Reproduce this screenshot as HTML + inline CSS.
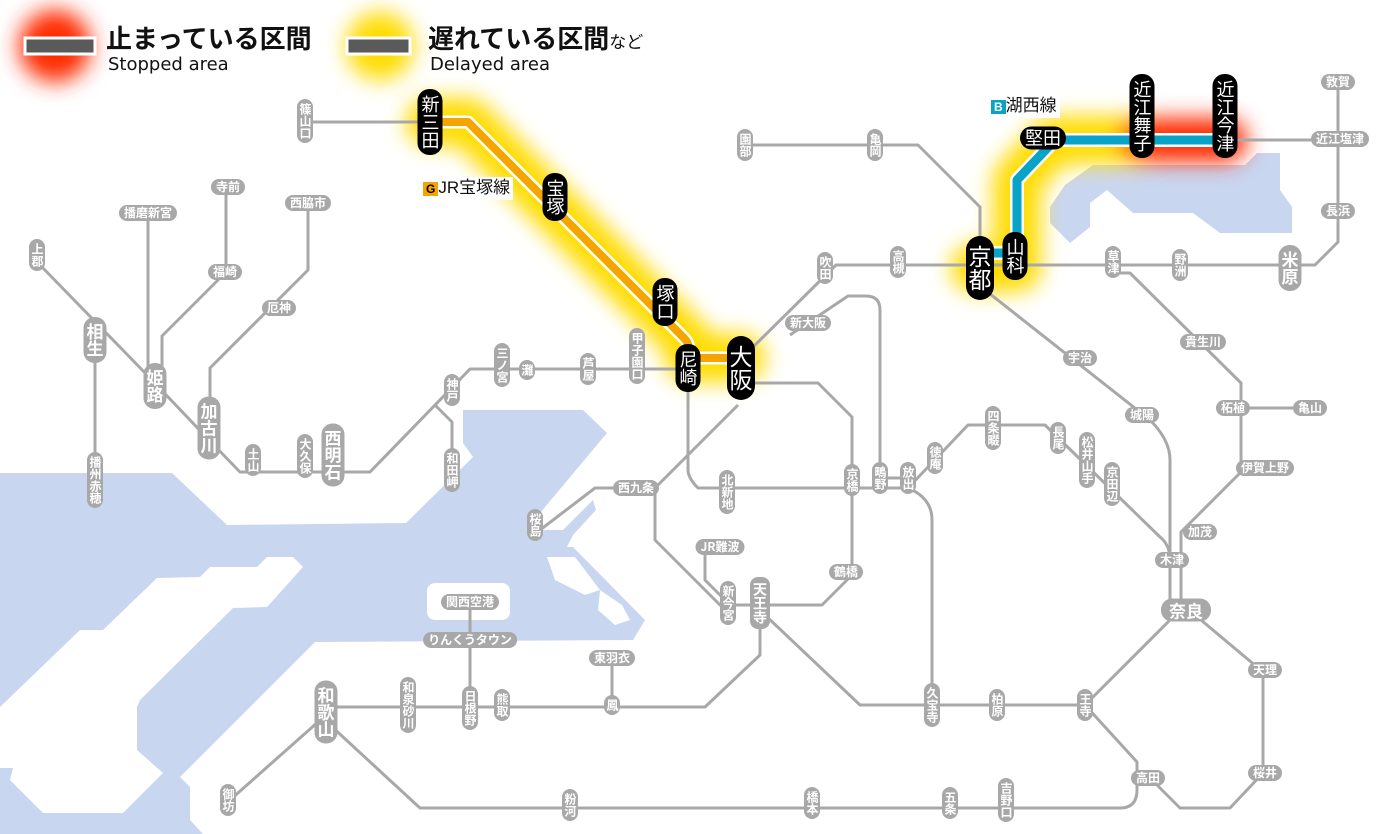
<!DOCTYPE html>
<html><head><meta charset="utf-8">
<style>
html,body{margin:0;padding:0;background:#fff;}
#m{position:relative;width:1400px;height:834px;overflow:hidden;background:#fff;font-family:"Liberation Sans","Noto Sans CJK JP",sans-serif;}
svg{position:absolute;left:0;top:0;}
.s{position:absolute;transform:translate(-50%,-50%);background:#a8a8a8;color:#fff;font-size:12px;line-height:12px;border-radius:8px;white-space:nowrap;font-family:"Noto Sans CJK JP",sans-serif;font-weight:bold;}
.v{writing-mode:vertical-rl;padding:4px 2px;}
.h{padding:2px 5px;}
.b{font-size:17px;line-height:17px;border-radius:11px;padding:6px 3px;}
.m{font-size:14px;line-height:14px;}
.k{background:#000;font-size:18px;line-height:19px;border-radius:12px;padding:6px 3px;font-weight:normal;}
.kb{font-size:23px;line-height:24px;border-radius:14px;padding:9px 2px;}
.kh{padding:2px 5px;}
.lg{position:absolute;color:#111;font-family:"Liberation Sans","Noto Sans CJK JP",sans-serif;}
.en{font-family:"DejaVu Sans",sans-serif;}
</style></head><body>
<div id="m">
<svg width="1400" height="834" viewBox="0 0 1400 834">
<defs>
<filter id="bl" x="-50%" y="-50%" width="200%" height="200%"><feGaussianBlur stdDeviation="11"/></filter>
</defs>
<g fill="#c9d6f0">
<polygon points="0,473 172,473 227,525 406,523 473,457 463,443 463,410 583,410 607,433 540,513 540,530 563,530 593,500 596,510 573,535 567,547 573,547 645,620 633,640 315,642 180,777 190,787 190,820 203,834 0,834"/>
<polygon points="1050,207 1065,185 1093,165 1245,165 1257,153 1280,153 1280,190 1292,207 1292,233 1220,233 1193,213 1133,213 1107,190 1090,203 1090,227 1070,243 1050,223"/>
</g>
<g fill="#fff">
<polygon points="0,707 80,630 103,630 157,578 200,577 210,567 257,567 267,557 293,557 303,567 267,607 233,608 140,700 137,707 137,750 163,773 123,813 43,813 10,780 13,768 0,768"/>
<rect x="427" y="583" width="83" height="37" rx="8"/>
<polygon points="547,557 575,557 600,590 585,595 555,580"/>
<polygon points="600,590 622,605 630,620 615,625 598,610"/>
</g>
<g filter="url(#bl)" fill="none" stroke-linecap="round" stroke-linejoin="round">
<path d="M430,122 H468 L689,343 V358 H741" stroke="#ffdc00" stroke-width="48"/>
<path d="M975,268 H1017 V180 L1055,140 H1142" stroke="#ffdc00" stroke-width="48"/>
<path d="M1142,140 H1225" stroke="#ff2a00" stroke-width="44"/>
<circle cx="55" cy="46" r="36" fill="#ff2a00" stroke="none"/>
<circle cx="380" cy="46" r="34" fill="#ffdc00" stroke="none"/>
</g>
<g fill="none" stroke="#a8a8a8" stroke-width="3" stroke-linejoin="round">
<path d="M305,122 H430"/>
<path d="M40,265 L150,378 L209,440 L240,472 H370 L470,369 H690"/>
<path d="M95,330 V480"/>
<path d="M148,213 V385"/>
<path d="M226,187 V272 M220,278 L162,336 V385"/>
<path d="M308,203 V270 L210,368 V425"/>
<path d="M435,405 L452,422 V470"/>
<path d="M688,369 V470 Q688,478 698,488 H908"/>
<path d="M880,478 H908"/>
<path d="M790,335 L848,296 H866 Q880,296 880,310 V488"/>
<path d="M748,352 L836,265 H1315 L1338,242 V82"/>
<path d="M741,383 H818 L852,417 V575 L822,605 H720 L655,540 V488 L738,405"/>
<path d="M640,488 H595 L540,530"/>
<path d="M705,547 V580 L728,603"/>
<path d="M760,620 V655 L705,707 H326"/>
<path d="M612,658 V705"/>
<path d="M470,602 V705"/>
<path d="M765,615 L860,705 H1085 L1172,618"/>
<path d="M1195,615 L1263,672 V773 L1230,808 H1180 L1150,778"/>
<path d="M1085,705 L1137,762 V790 Q1137,808 1120,808 H420 L330,725"/>
<path d="M318,722 L230,800"/>
<path d="M908,488 Q932,498 932,520 V705"/>
<path d="M908,488 L968,425 H1045 L1160,537 Q1170,545 1170,560 V610"/>
<path d="M985,290 L1150,420 Q1170,440 1170,460 V560"/>
<path d="M1181,610 V532 L1241,472 V383 L1130,273 H1113"/>
<path d="M1233,408 H1310"/>
<path d="M1225,140 H1340"/>
<path d="M980,240 V207 L918,145 H745"/>
</g>
<g fill="none" stroke-linejoin="round">
<path d="M430,122 H468 L684,338 Q689,343 689,350 V358 H741" stroke="#fff" stroke-width="13"/>
<path d="M430,122 H468 L684,338 Q689,343 689,350 V358 H741" stroke="#f4a500" stroke-width="8"/>
<path d="M980,253 H1017 V180 L1055,140 H1225" stroke="#fff" stroke-width="14"/>
<path d="M980,253 H1017 V180 L1055,140 H1225" stroke="#0aa3c8" stroke-width="9"/>
</g>
<rect x="25" y="38" width="70" height="16" fill="#5a5a5a" stroke="#fff" stroke-width="3"/>
<rect x="347" y="38" width="63" height="16" fill="#5a5a5a" stroke="#fff" stroke-width="3"/>
</svg>

<div class="lg" style="left:106px;top:24px;font-size:26px;line-height:30px;font-weight:bold;">止まっている区間</div>
<div class="lg en" style="left:108px;top:55px;font-size:18px;line-height:20px;">Stopped area</div>
<div class="lg" style="left:428px;top:24px;font-size:26px;line-height:30px;font-weight:bold;">遅れている区間<span style="font-size:17px;font-weight:normal">など</span></div>
<div class="lg en" style="left:430px;top:55px;font-size:18px;line-height:20px;">Delayed area</div>

<div class="lg" style="left:420px;top:177px;background:#fff;padding:1px 3px;font-size:17px;line-height:20px;"><span style="background:#f4a500;color:#000;font-size:12px;padding:0 3px;font-weight:bold;">G</span>JR宝塚線</div>
<div class="lg" style="left:988px;top:95px;background:#fff;padding:1px 3px;font-size:17px;line-height:20px;"><span style="background:#0aa3c8;color:#fff;font-size:12px;padding:0 3px;font-weight:bold;">B</span>湖西線</div>

<span class="s v" style="left:305px;top:121px">篠山口</span>
<span class="s v" style="left:37px;top:255px">上郡</span>
<span class="s v b" style="left:95px;top:340px">相生</span>
<span class="s v b" style="left:155px;top:386px">姫路</span>
<span class="s v b" style="left:209px;top:428px">加古川</span>
<span class="s v" style="left:95px;top:480px">播州赤穂</span>
<span class="s v" style="left:253px;top:460px">土山</span>
<span class="s v" style="left:305px;top:456px">大久保</span>
<span class="s v b" style="left:333px;top:455px">西明石</span>
<span class="s v" style="left:452px;top:390px">神戸</span>
<span class="s v" style="left:452px;top:470px">和田岬</span>
<span class="s v" style="left:502px;top:365px">三ノ宮</span>
<span class="s v" style="left:527px;top:370px">灘</span>
<span class="s v" style="left:588px;top:369px">芦屋</span>
<span class="s v" style="left:637px;top:356px">甲子園口</span>
<span class="s v" style="left:825px;top:268px">吹田</span>
<span class="s v" style="left:898px;top:262px">高槻</span>
<span class="s v" style="left:875px;top:145px">亀岡</span>
<span class="s v" style="left:745px;top:145px">園部</span>
<span class="s v" style="left:1113px;top:262px">草津</span>
<span class="s v" style="left:1180px;top:265px">野洲</span>
<span class="s v b" style="left:1290px;top:268px">米原</span>
<span class="s v" style="left:727px;top:492px">北新地</span>
<span class="s v" style="left:852px;top:480px">京橋</span>
<span class="s v" style="left:880px;top:478px">鴫野</span>
<span class="s v" style="left:908px;top:478px">放出</span>
<span class="s v" style="left:935px;top:458px">徳庵</span>
<span class="s v" style="left:993px;top:428px">四条畷</span>
<span class="s v" style="left:1058px;top:438px">長尾</span>
<span class="s v" style="left:1087px;top:460px">松井山手</span>
<span class="s v" style="left:1112px;top:484px">京田辺</span>
<span class="s v" style="left:535px;top:525px">桜島</span>
<span class="s v" style="left:728px;top:603px">新今宮</span>
<span class="s v m" style="left:760px;top:603px;padding:5px 3px;">天王寺</span>
<span class="s v b" style="left:326px;top:712px">和歌山</span>
<span class="s v" style="left:408px;top:705px">和泉砂川</span>
<span class="s v" style="left:470px;top:708px">日根野</span>
<span class="s v" style="left:502px;top:705px">熊取</span>
<span class="s v" style="left:612px;top:705px">鳳</span>
<span class="s v" style="left:228px;top:800px">御坊</span>
<span class="s v" style="left:570px;top:805px">粉河</span>
<span class="s v" style="left:812px;top:803px">橋本</span>
<span class="s v" style="left:950px;top:803px">五条</span>
<span class="s v" style="left:1006px;top:800px">吉野口</span>
<span class="s v" style="left:932px;top:705px">久宝寺</span>
<span class="s v" style="left:997px;top:705px">柏原</span>
<span class="s v" style="left:1085px;top:705px">王寺</span>
<span class="s h" style="left:148px;top:213px">播磨新宮</span>
<span class="s h" style="left:228px;top:187px">寺前</span>
<span class="s h" style="left:308px;top:203px">西脇市</span>
<span class="s h" style="left:225px;top:272px">福崎</span>
<span class="s h" style="left:279px;top:308px">厄神</span>
<span class="s h" style="left:808px;top:323px">新大阪</span>
<span class="s h" style="left:636px;top:488px">西九条</span>
<span class="s h" style="left:720px;top:547px">JR難波</span>
<span class="s h" style="left:846px;top:572px">鶴橋</span>
<span class="s h" style="left:470px;top:602px">関西空港</span>
<span class="s h" style="left:470px;top:640px">りんくうタウン</span>
<span class="s h" style="left:612px;top:658px">東羽衣</span>
<span class="s h" style="left:1080px;top:358px">宇治</span>
<span class="s h" style="left:1142px;top:415px">城陽</span>
<span class="s h" style="left:1203px;top:342px">貴生川</span>
<span class="s h" style="left:1233px;top:408px">柘植</span>
<span class="s h" style="left:1310px;top:408px">亀山</span>
<span class="s h" style="left:1265px;top:468px">伊賀上野</span>
<span class="s h" style="left:1200px;top:532px">加茂</span>
<span class="s h" style="left:1172px;top:560px">木津</span>
<span class="s h b" style="left:1186px;top:610px;padding:3px 8px;">奈良</span>
<span class="s h" style="left:1265px;top:670px">天理</span>
<span class="s h" style="left:1265px;top:773px">桜井</span>
<span class="s h" style="left:1148px;top:778px">高田</span>
<span class="s h" style="left:1338px;top:211px">長浜</span>
<span class="s h" style="left:1340px;top:139px">近江塩津</span>
<span class="s h" style="left:1338px;top:82px">敦賀</span>
<span class="s v k" style="left:430px;top:122px">新三田</span>
<span class="s v k" style="left:555px;top:197px">宝塚</span>
<span class="s v k" style="left:665px;top:302px">塚口</span>
<span class="s v k" style="left:688px;top:368px">尼崎</span>
<span class="s v k kb" style="left:741px;top:368px">大阪</span>
<span class="s v k kb" style="left:980px;top:268px">京都</span>
<span class="s v k" style="left:1015px;top:256px">山科</span>
<span class="s k kh" style="left:1043px;top:138px">堅田</span>
<span class="s v k" style="left:1142px;top:116px">近江舞子</span>
<span class="s v k" style="left:1225px;top:116px">近江今津</span>
</div>
</body></html>
